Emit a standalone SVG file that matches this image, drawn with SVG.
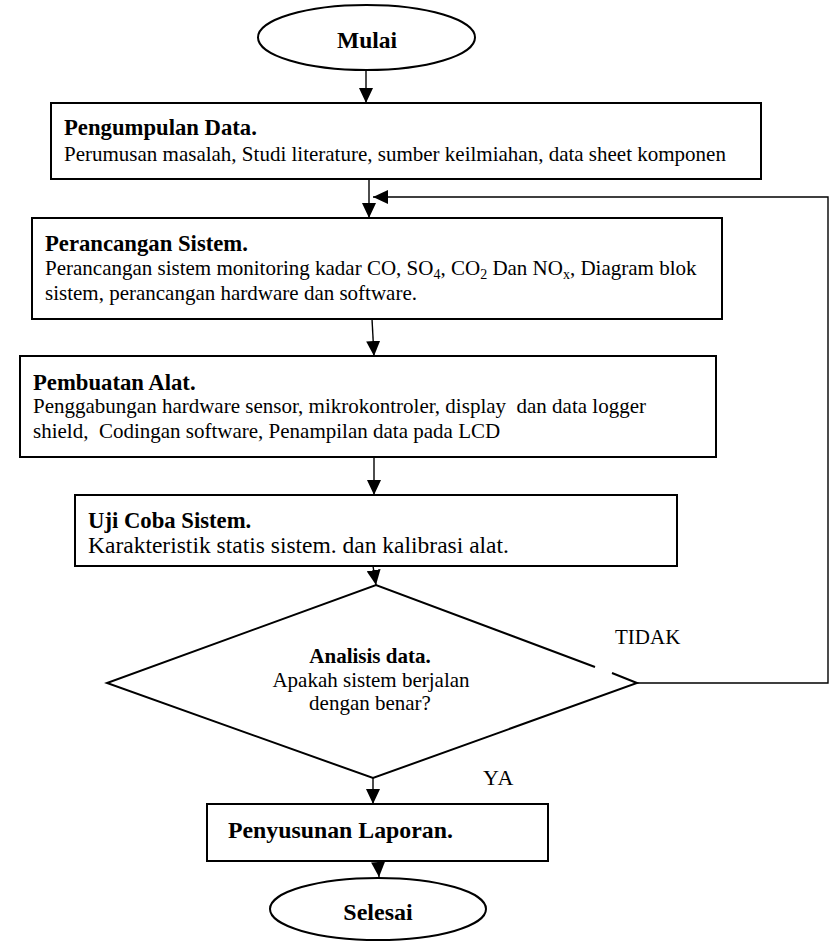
<svg xmlns="http://www.w3.org/2000/svg" width="830" height="942" viewBox="0 0 830 942">
<defs>
<style>
.bx{fill:#fff;stroke:#000;stroke-width:2}
.sh{fill:#fff;stroke:#000;stroke-width:2}
.cn{fill:none;stroke:#000;stroke-width:1.4}
.t{font-family:"Liberation Serif","Times New Roman",serif;font-size:21px;fill:#000}
.h{font-family:"Liberation Serif","Times New Roman",serif;font-size:22.7px;font-weight:bold;fill:#000}
.c{text-anchor:middle}
</style>
<marker id="ah" markerWidth="15" markerHeight="14" refX="15" refY="7" orient="auto" markerUnits="userSpaceOnUse">
<path d="M0,0 L15,7 L0,14 z" fill="#000"/>
</marker>
</defs>
<rect width="830" height="942" fill="#fff"/>
<g id="connectors">
<path class="cn" d="M366,70 V103" marker-end="url(#ah)"/>
<path class="cn" d="M369,179 V218" marker-end="url(#ah)"/>
<path class="cn" d="M372,319 L374,356" marker-end="url(#ah)"/>
<path class="cn" d="M374,457 V495" marker-end="url(#ah)"/>
<path class="cn" d="M373,566 L376,585" marker-end="url(#ah)"/>
<path class="cn" d="M373,778 V804" marker-end="url(#ah)"/>
<path class="cn" d="M378,861 L379,877" marker-end="url(#ah)"/>
<path class="cn" d="M637,683 H828 V197 H373" marker-end="url(#ah)"/>
</g>
<g id="mulai">
<ellipse class="sh" cx="366.5" cy="37.5" rx="108.5" ry="32.5"/>
<text class="h c" x="367" y="48" style="font-size:23.5px">Mulai</text>
</g>
<g id="pengumpulan">
<rect class="bx" x="51" y="103" width="710" height="76"/>
<text class="h" x="64" y="135">Pengumpulan Data.</text>
<text class="t" x="64" y="161">Perumusan masalah, Studi literature, sumber keilmiahan, data sheet komponen</text>
</g>
<g id="perancangan">
<rect class="bx" x="32" y="218" width="690" height="101"/>
<text class="h" x="45" y="251">Perancangan Sistem.</text>
<text class="t" x="45" y="275">Perancangan sistem monitoring kadar CO, SO<tspan dy="4" font-size="14">4</tspan><tspan dy="-4">, CO</tspan><tspan dy="4" font-size="14">2</tspan><tspan dy="-4"> Dan NO</tspan><tspan dy="4" font-size="14">x</tspan><tspan dy="-4">, Diagram blok</tspan></text>
<text class="t" x="45" y="300">sistem, perancangan hardware dan software.</text>
</g>
<g id="pembuatan">
<rect class="bx" x="20" y="356" width="696" height="101"/>
<text class="h" x="33" y="390">Pembuatan Alat.</text>
<text class="t" x="33" y="413" xml:space="preserve">Penggabungan hardware sensor, mikrokontroler, display  dan data logger</text>
<text class="t" x="33" y="438" xml:space="preserve">shield,  Codingan software, Penampilan data pada LCD</text>
</g>
<g id="ujicoba">
<rect class="bx" x="75" y="495" width="602" height="71"/>
<text class="h" x="88" y="528">Uji Coba Sistem.</text>
<text class="t" x="88" y="553" style="font-size:23.5px">Karakteristik statis sistem. dan kalibrasi alat.</text>
</g>
<g id="analisis">
<path class="sh" d="M595,667 L376,585 L107,683 L373,778 L637,683 L612,673"/>
<text class="h c" x="370" y="663" style="font-size:21px">Analisis data.</text>
<text class="t c" x="371" y="687">Apakah sistem berjalan</text>
<text class="t c" x="370" y="710">dengan benar?</text>
</g>
<g id="labels">
<text class="t" x="615" y="644">TIDAK</text>
<text class="t" x="483" y="785" style="font-size:22px;letter-spacing:1px">YA</text>
</g>
<g id="penyusunan">
<rect class="bx" x="207" y="804" width="341" height="57"/>
<text class="h" x="228" y="838" style="font-size:23.8px">Penyusunan Laporan.</text>
</g>
<g id="selesai">
<ellipse class="sh" cx="378" cy="909" rx="108" ry="31"/>
<text class="h c" x="378" y="920" style="font-size:24px">Selesai</text>
</g>
</svg>
